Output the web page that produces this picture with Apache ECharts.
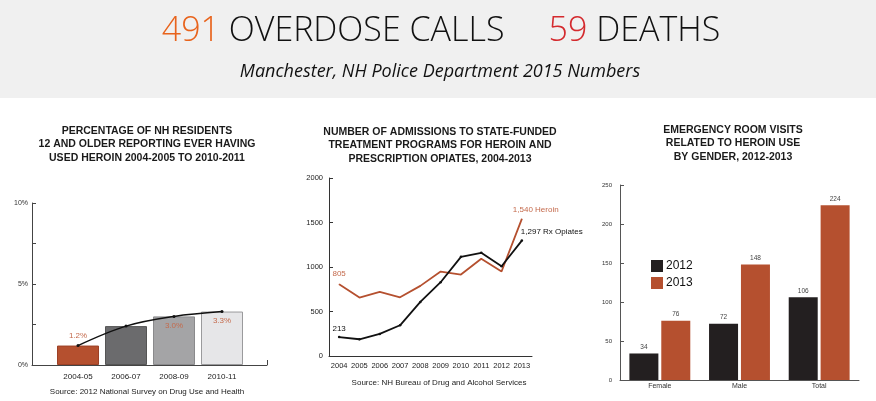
<!DOCTYPE html>
<html>
<head>
<meta charset="utf-8">
<script src="https://cdn.jsdelivr.net/npm/echarts@6/dist/echarts.min.js"></script>
<style>
html,body{margin:0;padding:0;background:#fff;}
#c{width:876px;height:401px;}
</style>
</head>
<body>
<div id="c"></div>
<script>
// ---- data ----
const pctCategories = ['2004-05', '2006-07', '2008-09', '2010-11'];
const pctValues = [1.2, 2.4, 3.0, 3.3];
const pctLabels = ['1.2%', '', '3.0%', '3.3%'];
const pctTicks = ['0%', '', '5%', '', '10%'];

const admYears = ['2004', '2005', '2006', '2007', '2008', '2009', '2010', '2011', '2012', '2013'];
const heroinAdm = [805, 657, 720, 660, 788, 949, 915, 1092, 949, 1540];
const rxAdm = [213, 188, 248, 345, 608, 829, 1114, 1159, 1009, 1297];

const erCategories = ['Female', 'Male', 'Total'];
const er2012 = [34, 72, 106];
const er2013 = [76, 148, 224];

const headline = { calls: '491', callsText: 'OVERDOSE CALLS', deaths: '59', deathsText: 'DEATHS' };
const subtitle = 'Manchester, NH Police Department 2015 Numbers';

const ORANGE = '#b5502f';
const LABEL_OR = '#c46a4c';
const F = 'Liberation Sans, Arial, sans-serif';

const chart = echarts.init(document.getElementById('c'), null, { renderer: 'canvas' });

const barColors = [
  { color: ORANGE, borderColor: '#9c4026' },
  { color: '#6b6b6d', borderColor: '#555' },
  { color: '#a4a4a6', borderColor: '#8a8a8c' },
  { color: '#e6e6e8', borderColor: '#9a9a9c' }
];

const titleStyle = { fontFamily: F, fontWeight: 'bold', fontSize: 10.5, color: '#1a1a1a', lineHeight: 13.5 };

const option = {
  animation: false,
  backgroundColor: '#ffffff',
  graphic: [
    { type: 'rect', shape: { x: 0, y: 0, width: 876, height: 98 }, style: { fill: '#f0f0f0' }, silent: true, z: -10 },
    {
      type: 'text', x: 441, y: 31,
      style: {
        text: '{o|' + headline.calls + '} {k|' + headline.callsText + '}     {r|' + headline.deaths + '} {k|' + headline.deathsText + '}',
        align: 'center', verticalAlign: 'middle',
        fontFamily: 'Open Sans', fontSize: 34, fontWeight: 300, fill: '#111',
        rich: {
          o: { fontFamily: 'Open Sans', fontSize: 34, fontWeight: 300, fill: '#e8631c' },
          r: { fontFamily: 'Open Sans', fontSize: 34, fontWeight: 300, fill: '#d42a2e' },
          k: { fontFamily: 'Open Sans', fontSize: 34, fontWeight: 300, fill: '#111' }
        }
      }
    },
    {
      type: 'text', x: 440, y: 72,
      style: { text: subtitle, align: 'center', verticalAlign: 'middle', fontFamily: 'Open Sans', fontStyle: 'italic', fontSize: 18, fill: '#111' }
    }
  ],
  title: [
    { text: 'PERCENTAGE OF NH RESIDENTS\n12 AND OLDER REPORTING EVER HAVING\nUSED HEROIN 2004-2005 TO 2010-2011', left: 147, top: 124, textAlign: 'center', textStyle: titleStyle, padding: 0 },
    { text: 'NUMBER OF ADMISSIONS TO STATE-FUNDED\nTREATMENT PROGRAMS FOR HEROIN AND\nPRESCRIPTION OPIATES, 2004-2013', left: 440, top: 125, textAlign: 'center', textStyle: titleStyle, padding: 0 },
    { text: 'EMERGENCY ROOM VISITS\nRELATED TO HEROIN USE\nBY GENDER, 2012-2013', left: 733, top: 123, textAlign: 'center', textStyle: titleStyle, padding: 0 },
    { text: 'Source: 2012 National Survey on Drug Use and Health', left: 147, top: 388, textAlign: 'center', textStyle: { fontFamily: F, fontSize: 8, fontWeight: 'normal', color: '#222' }, padding: 0 },
    { text: 'Source: NH Bureau of Drug and Alcohol Services', left: 439, top: 379, textAlign: 'center', textStyle: { fontFamily: F, fontSize: 8, fontWeight: 'normal', color: '#222' }, padding: 0 }
  ],
  legend: {
    data: ['2012', '2013'],
    orient: 'vertical', left: 646, top: 255,
    itemWidth: 12, itemHeight: 12, itemGap: 5,
    icon: 'rect',
    textStyle: { fontFamily: F, fontSize: 12, color: '#111', padding: [0, 0, 0, -2] }
  },
  grid: [
    { left: 32, top: 203, width: 235, height: 162 },   // 0 chart1 frame
    { left: 54, top: 203, width: 192, height: 162 },   // 1 chart1 marks
    { left: 329, top: 178, width: 203, height: 178 },  // 2 chart2
    { left: 620, top: 185, width: 239, height: 195 }   // 3 chart3
  ],
  xAxis: [
    { gridIndex: 0, type: 'value', min: 0, max: 1, interval: 1,
      axisLine: { lineStyle: { color: '#444', width: 1 } },
      axisTick: { show: true, inside: true, length: 5, lineStyle: { color: '#444' } },
      axisLabel: { show: false }, splitLine: { show: false } },
    { gridIndex: 1, type: 'category', data: pctCategories,
      axisLine: { show: false }, axisTick: { show: false },
      axisLabel: { fontFamily: F, fontSize: 8, color: '#222', margin: 8 } },
    { gridIndex: 2, type: 'category', data: admYears, boundaryGap: true,
      axisLine: { lineStyle: { color: '#333', width: 1 } },
      axisTick: { inside: true, length: 4, lineStyle: { color: '#333' } },
      axisLabel: { fontFamily: F, fontSize: 7.5, color: '#222', margin: 6, interval: 0 } },
    { gridIndex: 3, type: 'category', data: erCategories,
      axisLine: { lineStyle: { color: '#555', width: 1 } },
      axisTick: { inside: true, length: 4, lineStyle: { color: '#555' } },
      axisLabel: { fontFamily: F, fontSize: 7, color: '#333', margin: 3 } }
  ],
  yAxis: [
    { gridIndex: 0, type: 'value', min: 0, max: 10, interval: 2.5,
      axisLine: { show: true, lineStyle: { color: '#444', width: 1 } },
      axisTick: { show: true, inside: true, length: 4, lineStyle: { color: '#444' } },
      axisLabel: { fontFamily: F, fontSize: 7, color: '#333', margin: 4,
        formatter: function (v) { return pctTicks[Math.round(v / 2.5)]; } },
      splitLine: { show: false } },
    { gridIndex: 1, type: 'value', min: 0, max: 10, show: false, splitLine: { show: false } },
    { gridIndex: 2, type: 'value', min: 0, max: 2000, interval: 500,
      axisLine: { show: true, lineStyle: { color: '#333', width: 1 } },
      axisTick: { show: true, inside: true, length: 4, lineStyle: { color: '#333' } },
      axisLabel: { fontFamily: F, fontSize: 7.5, color: '#222', margin: 6, formatter: function (v) { return String(v); } },
      splitLine: { show: false } },
    { gridIndex: 3, type: 'value', min: 0, max: 250, interval: 50,
      axisLine: { show: true, lineStyle: { color: '#555', width: 1 } },
      axisTick: { show: true, inside: true, length: 4, lineStyle: { color: '#555' } },
      axisLabel: { fontFamily: F, fontSize: 6, color: '#333', margin: 8 },
      splitLine: { show: false } }
  ],
  series: [
    {
      type: 'bar', xAxisIndex: 1, yAxisIndex: 1, barWidth: 42,
      data: pctValues.map(function (v, i) {
        return {
          value: v,
          itemStyle: { color: barColors[i].color, borderColor: barColors[i].borderColor, borderWidth: 1 },
          label: {
            show: pctLabels[i] !== '',
            formatter: pctLabels[i],
            position: i === 0 ? 'top' : 'insideTop',
            distance: i === 0 ? 6 : 5,
            fontFamily: F, fontSize: 8, color: LABEL_OR
          }
        };
      })
    },
    {
      type: 'line', xAxisIndex: 1, yAxisIndex: 1, data: pctValues, smooth: 0.35,
      symbol: 'circle', symbolSize: 3,
      lineStyle: { color: '#111', width: 1.5 }, itemStyle: { color: '#111' }, z: 5
    },
    {
      name: 'Heroin', type: 'line', xAxisIndex: 2, yAxisIndex: 2,
      data: heroinAdm.map(function (v, i) {
        if (i === 0) return { value: v, label: { show: true, formatter: '805', position: 'top', distance: 6, color: LABEL_OR } };
        if (i === heroinAdm.length - 1) return { value: v, label: { show: true, formatter: '1,540 Heroin', position: 'top', align: 'left', offset: [-9, -1], distance: 4, color: LABEL_OR } };
        return v;
      }),
      symbol: 'circle', symbolSize: 1, showSymbol: true,
      lineStyle: { color: ORANGE, width: 1.8 }, itemStyle: { color: ORANGE },
      label: { fontFamily: F, fontSize: 8 }
    },
    {
      name: 'Rx Opiates', type: 'line', xAxisIndex: 2, yAxisIndex: 2,
      data: rxAdm.map(function (v, i) {
        if (i === 0) return { value: v, label: { show: true, formatter: '213', position: 'top', distance: 3, color: '#111' } };
        if (i === rxAdm.length - 1) return { value: v, label: { show: true, formatter: '1,297 Rx Opiates', position: 'top', align: 'left', offset: [-1, 0], distance: 4, color: '#111' } };
        return v;
      }),
      symbol: 'circle', symbolSize: 2.5, showSymbol: true,
      lineStyle: { color: '#111', width: 1.8 }, itemStyle: { color: '#111' },
      label: { fontFamily: F, fontSize: 8 }
    },
    {
      name: '2012', type: 'bar', xAxisIndex: 3, yAxisIndex: 3, data: er2012,
      barWidth: 29, barGap: '10%', itemStyle: { color: '#231f20' },
      label: { show: true, position: 'top', distance: 3, fontFamily: F, fontSize: 6.5, color: '#444' }
    },
    {
      name: '2013', type: 'bar', xAxisIndex: 3, yAxisIndex: 3, data: er2013,
      barWidth: 29, barGap: '10%', itemStyle: { color: ORANGE },
      label: { show: true, position: 'top', distance: 3, fontFamily: F, fontSize: 6.5, color: '#444' }
    }
  ]
};

chart.setOption(option);
</script>
</body>
</html>
